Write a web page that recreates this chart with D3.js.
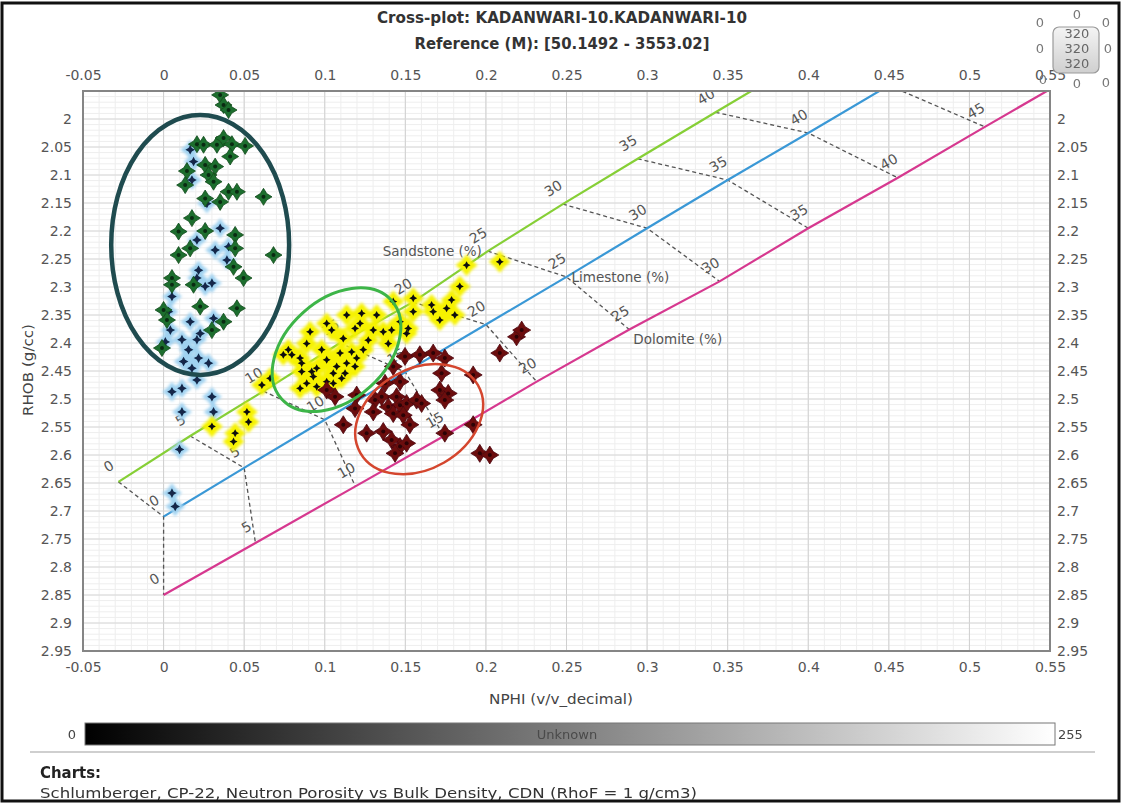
<!DOCTYPE html>
<html><head><meta charset="utf-8">
<script src="https://cdn.jsdelivr.net/npm/d3@7"></script>
<style>body{margin:0;background:#fff}svg{display:block}</style>
</head><body>
<svg id="chart" width="1123" height="805"></svg>
<script>
// ---- Chart data ----
const xTicks = [-0.05, 0, 0.05, 0.1, 0.15, 0.2, 0.25, 0.3, 0.35, 0.4, 0.45, 0.5, 0.55];
const yTicks = [2, 2.05, 2.1, 2.15, 2.2, 2.25, 2.3, 2.35, 2.4, 2.45, 2.5, 2.55, 2.6, 2.65, 2.7, 2.75, 2.8, 2.85, 2.9, 2.95];

// porosity (%) along each lithology line of the CP-22 chart
const porosity = [0, 5, 10, 15, 20, 25, 30, 35, 40, 45, 50];
const sandstoneNphi = [-0.028, 0.0165, 0.062, 0.1095, 0.1547, 0.2012, 0.2477, 0.2942, 0.3425, 0.391, 0.44];
const sandstoneRhob = [2.648, 2.566, 2.486, 2.400, 2.327, 2.236, 2.152, 2.071, 1.988, 1.905, 1.82];
const limestoneNphi = [0, 0.05, 0.1, 0.15, 0.2, 0.25, 0.3, 0.35, 0.4, 0.45, 0.5];
const limestoneRhob = [2.710, 2.623, 2.537, 2.452, 2.367, 2.282, 2.195, 2.109, 2.025, 1.940, 1.855];
const dolomiteNphi = [0, 0.057, 0.119, 0.174, 0.2315, 0.289, 0.345, 0.400, 0.4556, 0.5096, 0.565];
const dolomiteRhob = [2.850, 2.757, 2.656, 2.566, 2.469, 2.376, 2.290, 2.195, 2.105, 2.014, 1.922];

// samples, grouped by symbol colour
const greenNphi = [0.0351,0.0372,0.0403,0.0207,0.0248,0.0331,0.0372,0.0424,0.0506,0.0413,0.0258,0.0320,0.0145,0.0279,0.0310,0.0134,0.0403,0.0455,0.0620,0.0258,0.0351,0.0176,0.0093,0.0258,0.0444,0.0165,0.0093,0.0444,0.0682,0.0434,0.0496,0.0052,0.0052,0.0186,0.0227,0.0455,0.0000,0.0021,0.0300,0.0372,-0.001];
const greenRhob = [1.957,1.975,1.984,2.045,2.046,2.046,2.034,2.045,2.048,2.067,2.082,2.085,2.093,2.100,2.112,2.118,2.130,2.130,2.139,2.142,2.148,2.177,2.201,2.200,2.207,2.231,2.243,2.231,2.243,2.264,2.284,2.284,2.296,2.296,2.335,2.338,2.341,2.359,2.377,2.362,2.409];

const blueNphi = [0.0165,0.0186,0.0176,0.0269,0.0351,0.0207,0.0403,0.0320,0.0393,0.0217,0.0207,0.0300,0.0258,0.0052,0.0031,0.0042,0.0011,0.0165,0.0114,0.0207,0.0227,0.0155,0.0217,0.0124,0.0279,0.0176,0.0310,0.0207,0.0052,0.0114,0.0300,0.0114,0.0310,0.0099,0.0052,0.0072];
const blueRhob = [2.055,2.076,2.109,2.151,2.195,2.216,2.228,2.234,2.252,2.270,2.284,2.293,2.299,2.317,2.344,2.377,2.398,2.362,2.394,2.394,2.383,2.412,2.427,2.433,2.436,2.445,2.356,2.466,2.487,2.481,2.496,2.523,2.523,2.590,2.668,2.692];

const yellowNphi = [0.0661,0.0610,0.0517,0.0527,0.0300,0.0444,0.0434,0.0743,0.2086,0.1880,0.1838,0.1787,0.1756,0.1807,0.1714,0.1663,0.1673,0.1549,0.1549,0.1425,0.1467,0.1518,0.1508,0.1415,0.1394,0.1363,0.1301,0.1229,0.1136,0.1219,0.1188,0.1115,0.1270,0.1239,0.1167,0.1095,0.1043,0.1012,0.0909,0.0888,0.0981,0.1012,0.1074,0.1136,0.1188,0.1198,0.1053,0.1126,0.0950,0.0929,0.0857,0.0847,0.0796,0.0774,0.0857,0.0888,0.0950,0.1012,0.1053,0.1105,0.0847,0.0919,0.1322];
const yellowRhob = [2.463,2.475,2.523,2.541,2.549,2.561,2.576,2.421,2.255,2.261,2.299,2.323,2.338,2.350,2.359,2.332,2.344,2.320,2.344,2.326,2.362,2.374,2.383,2.377,2.401,2.380,2.377,2.347,2.350,2.365,2.374,2.392,2.395,2.412,2.416,2.418,2.377,2.365,2.380,2.401,2.412,2.430,2.442,2.436,2.442,2.427,2.454,2.454,2.445,2.460,2.436,2.427,2.421,2.412,2.451,2.472,2.478,2.469,2.472,2.463,2.481,2.451,2.350];

const redNphi = [0.2086,0.2190,0.2222,0.1498,0.1590,0.1673,0.1745,0.1725,0.1921,0.1425,0.1374,0.1467,0.1714,0.1766,0.1745,0.1012,0.1064,0.1198,0.1188,0.1312,0.1353,0.1301,0.1394,0.1446,0.1467,0.1508,0.1570,0.1601,0.1425,0.1487,0.1115,0.1260,0.1363,0.1415,0.1528,0.1467,0.1436,0.1508,0.1745,0.1921,0.1962,0.2024];
const redRhob = [2.418,2.389,2.377,2.424,2.421,2.418,2.427,2.454,2.457,2.442,2.472,2.469,2.484,2.490,2.502,2.484,2.496,2.493,2.517,2.502,2.496,2.523,2.514,2.496,2.511,2.508,2.502,2.508,2.526,2.529,2.546,2.561,2.558,2.573,2.546,2.585,2.597,2.579,2.561,2.546,2.597,2.600];

// highlighted clusters: centre (nphi, rhob), half-axes in data units, tilt in degrees
const clusterNames = ["gas", "sand", "dolo"];
const clusterNphi = [0.0227, 0.1073, 0.1586];
const clusterRhob = [2.225, 2.412, 2.536];
const clusterRx = [0.0552, 0.0458, 0.0421];
const clusterRy = [0.232, 0.0893, 0.0893];
const clusterTilt = [0, -42, -30];

// ---- Layout ----
const svg = d3.select("#chart");
const L = 83, R = 1050, T = 91, B = 651;
const x = d3.scaleLinear().domain([-0.05, 0.55]).range([L, R]);
const y = d3.scaleLinear().domain([1.95, 2.95]).range([T, B]);
const fmt = d => String(+d.toFixed(2));
const FONT = "'DejaVu Sans', Verdana, sans-serif";
const inPlot = (n, r) => x(n) >= L && x(n) <= R && y(r) >= T && y(r) <= B;

svg.append("rect").attr("width", 1123).attr("height", 805).attr("fill", "#fff");

const defs = svg.append("defs");
defs.append("clipPath").attr("id", "plotclip").append("rect")
  .attr("x", L).attr("y", T).attr("width", R - L).attr("height", B - T);
const glow = defs.append("filter").attr("id", "glow").attr("x", "-50%").attr("y", "-50%").attr("width", "200%").attr("height", "200%");
glow.append("feGaussianBlur").attr("stdDeviation", 1.4);
const soft = defs.append("filter").attr("id", "soft").attr("x", "-50%").attr("y", "-50%").attr("width", "200%").attr("height", "200%");
soft.append("feGaussianBlur").attr("stdDeviation", 0.6);
const grad = defs.append("linearGradient").attr("id", "bar");
grad.append("stop").attr("offset", "0%").attr("stop-color", "#000");
grad.append("stop").attr("offset", "100%").attr("stop-color", "#fff");
const knob = defs.append("linearGradient").attr("id", "knob").attr("x1", 0).attr("x2", 0).attr("y1", 0).attr("y2", 1);
knob.append("stop").attr("offset", "0%").attr("stop-color", "#f4f4f4");
knob.append("stop").attr("offset", "100%").attr("stop-color", "#cfcfcf");

// ---- Titles ----
svg.append("text").attr("x", 562).attr("y", 23).attr("text-anchor", "middle")
  .attr("font-family", FONT).attr("font-weight", "bold").attr("font-size", 15).attr("fill", "#333")
  .attr("textLength", 370).attr("lengthAdjust", "spacingAndGlyphs")
  .text("Cross-plot: KADANWARI-10.KADANWARI-10");
svg.append("text").attr("x", 562).attr("y", 49).attr("text-anchor", "middle")
  .attr("font-family", FONT).attr("font-weight", "bold").attr("font-size", 15).attr("fill", "#333")
  .attr("textLength", 295).attr("lengthAdjust", "spacingAndGlyphs")
  .text("Reference (M): [50.1492 - 3553.02]");

// ---- Grid ----
const grid = svg.append("g");
grid.selectAll(".mx").data(x.ticks(60)).join("line")
  .attr("x1", d => x(d)).attr("x2", d => x(d)).attr("y1", T).attr("y2", B)
  .attr("stroke", "#eeeeee").attr("stroke-width", 1);
grid.selectAll(".my").data(y.ticks(100)).join("line")
  .attr("y1", d => y(d)).attr("y2", d => y(d)).attr("x1", L).attr("x2", R)
  .attr("stroke", "#eeeeee").attr("stroke-width", 1);
grid.selectAll(".gx").data(xTicks).join("line")
  .attr("x1", d => x(d)).attr("x2", d => x(d)).attr("y1", T).attr("y2", B)
  .attr("stroke", "#cfcfcf").attr("stroke-width", 1);
grid.selectAll(".gy").data(yTicks).join("line")
  .attr("y1", d => y(d)).attr("y2", d => y(d)).attr("x1", L).attr("x2", R)
  .attr("stroke", "#d8d8d8").attr("stroke-width", 1);

// ---- Axes ----
function styleAxis(g) {
  g.select(".domain").remove();
  g.selectAll("text").attr("font-family", FONT).attr("font-size", 14).attr("fill", "#555");
}
svg.append("g").attr("transform", `translate(0,${B})`)
  .call(d3.axisBottom(x).tickValues(xTicks).tickSize(0).tickPadding(11).tickFormat(fmt)).call(styleAxis);
svg.append("g").attr("transform", `translate(0,${T})`)
  .call(d3.axisTop(x).tickValues(xTicks).tickSize(0).tickPadding(11).tickFormat(fmt)).call(styleAxis);
svg.append("g").attr("transform", `translate(${L},0)`)
  .call(d3.axisLeft(y).tickValues(yTicks).tickSize(0).tickPadding(11).tickFormat(fmt)).call(styleAxis);
svg.append("g").attr("transform", `translate(${R},0)`)
  .call(d3.axisRight(y).tickValues(yTicks).tickSize(0).tickPadding(7).tickFormat(fmt)).call(styleAxis);

svg.append("text").attr("transform", "translate(33,370) rotate(-90)").attr("text-anchor", "middle")
  .attr("font-family", FONT).attr("font-size", 14).attr("fill", "#444")
  .attr("textLength", 92).attr("lengthAdjust", "spacingAndGlyphs").text("RHOB (g/cc)");
svg.append("text").attr("x", 561).attr("y", 704).attr("text-anchor", "middle")
  .attr("font-family", FONT).attr("font-size", 14).attr("fill", "#444")
  .attr("textLength", 144).attr("lengthAdjust", "spacingAndGlyphs").text("NPHI (v/v_decimal)");

// ---- Lithology lines ----
const plot = svg.append("g").attr("clip-path", "url(#plotclip)");
const lith = [
  { name: "Sandstone (%)", n: sandstoneNphi, r: sandstoneRhob, color: "#86cf36" },
  { name: "Limestone (%)", n: limestoneNphi, r: limestoneRhob, color: "#3a98d6" },
  { name: "Dolomite (%)", n: dolomiteNphi, r: dolomiteRhob, color: "#d6388f" }
];
const line = d3.line().x(d => x(d[0])).y(d => y(d[1]));

// dashed iso-porosity connectors
const isoLayer = plot.append("g");
porosity.forEach((p, i) => {
  const pts = lith.map(l => [l.n[i], l.r[i]]);
  isoLayer.append("path").attr("d", line(pts)).attr("fill", "none")
    .attr("stroke", "#555").attr("stroke-width", 1.3).attr("stroke-dasharray", "4 3");
});

lith.forEach(l => {
  const pts = l.n.map((v, i) => [v, l.r[i]]);
  plot.append("path").attr("d", line(pts)).attr("fill", "none")
    .attr("stroke", l.color).attr("stroke-width", 2.2);
  const a = [x(pts[0][0]), y(pts[0][1])], b = [x(pts[pts.length - 1][0]), y(pts[pts.length - 1][1])];
  const len = Math.hypot(b[0] - a[0], b[1] - a[1]);
  const ux = (b[0] - a[0]) / len, uy = (b[1] - a[1]) / len;
  const ang = Math.atan2(uy, ux) * 180 / Math.PI;
  const marks = pts.map((d, i) => ({ d, p: porosity[i] })).filter(o => inPlot(o.d[0], o.d[1]));
  plot.selectAll(null).data(marks).join("text")
    .attr("transform", o => `translate(${x(o.d[0]) + uy * 18.5},${y(o.d[1]) - ux * 18.5}) rotate(${ang})`)
    .attr("text-anchor", "middle").attr("dominant-baseline", "central")
    .attr("font-family", FONT).attr("font-size", 14).attr("fill", "#555")
    .text(o => o.p);
});

// lithology names at the 25 % marks
const i25 = porosity.indexOf(25);
plot.append("text").attr("x", x(sandstoneNphi[i25]) - 6).attr("y", y(sandstoneRhob[i25]))
  .attr("text-anchor", "end").attr("dominant-baseline", "central")
  .attr("font-family", FONT).attr("font-size", 13.5).attr("fill", "#555").text(lith[0].name);
plot.append("text").attr("x", x(limestoneNphi[i25]) + 5).attr("y", y(limestoneRhob[i25]))
  .attr("dominant-baseline", "central")
  .attr("font-family", FONT).attr("font-size", 13.5).attr("fill", "#555").text(lith[1].name);
plot.append("text").attr("x", x(dolomiteNphi[i25]) + 4).attr("y", y(dolomiteRhob[i25]) + 9)
  .attr("dominant-baseline", "central")
  .attr("font-family", FONT).attr("font-size", 13.5).attr("fill", "#555").text(lith[2].name);

// ---- Samples ----
const star = (r, k) => { const w = r * k; return `M0,${-r}L${w},${-w}L${r},0L${w},${w}L0,${r}L${-w},${w}L${-r},0L${-w},${-w}Z`; };
const pairs = (n, r) => n.map((v, i) => [v, r[i]]);
function drawSet(data, halo, core, dot) {
  const g = plot.append("g");
  const at = d => `translate(${x(d[0])},${y(d[1])})`;
  if (halo) {
    g.append("g").attr("filter", "url(#glow)").selectAll("path").data(data).join("path")
      .attr("d", star(halo.r, halo.k)).attr("fill", halo.color).attr("transform", at);
  }
  g.append("g").attr("filter", "url(#soft)").selectAll("path").data(data).join("path")
    .attr("d", star(core.r, core.k)).attr("fill", core.color)
    .attr("stroke", core.edge || "none").attr("stroke-width", 0.8).attr("transform", at);
  if (dot) {
    g.append("g").selectAll("circle").data(data).join("circle")
      .attr("cx", d => x(d[0])).attr("cy", d => y(d[1])).attr("r", dot.r).attr("fill", dot.color);
  }
}
drawSet(pairs(blueNphi, blueRhob), { color: "#9fd1f0", r: 10, k: 0.42 }, { color: "#12284a", r: 4.8, k: 0.35 }, null);
drawSet(pairs(greenNphi, greenRhob), null, { color: "#1e6e2d", r: 8.5, k: 0.38, edge: "#124a1c" }, { color: "#0a2a12", r: 2 });
drawSet(pairs(yellowNphi, yellowRhob), { color: "#f6f200", r: 11, k: 0.45 }, { color: "#111", r: 4, k: 0.35 }, null);
drawSet(pairs(redNphi, redRhob), null, { color: "#6c0b10", r: 9, k: 0.38, edge: "#4a060a" }, { color: "#2c0306", r: 2 });

// ---- Cluster outlines ----
const clusterStyle = { gas: ["#1f4b4f", 4.5], sand: ["#3db548", 3], dolo: ["#d4462e", 2.5] };
clusterNames.forEach((k, i) => {
  const cx = x(clusterNphi[i]), cy = y(clusterRhob[i]);
  const rx = x(clusterNphi[i] + clusterRx[i]) - cx, ry = y(clusterRhob[i] + clusterRy[i]) - cy;
  plot.append("ellipse").attr("cx", 0).attr("cy", 0).attr("rx", rx).attr("ry", ry)
    .attr("transform", `translate(${cx},${cy}) rotate(${clusterTilt[i]})`)
    .attr("fill", "none").attr("stroke", clusterStyle[k][0]).attr("stroke-width", clusterStyle[k][1]);
});

// plot frame
svg.append("rect").attr("x", L).attr("y", T).attr("width", R - L).attr("height", B - T)
  .attr("fill", "none").attr("stroke", "#858585").attr("stroke-width", 2);

// ---- Colour scale bar ----
svg.append("rect").attr("x", 85).attr("y", 723).attr("width", 970).attr("height", 22)
  .attr("fill", "url(#bar)").attr("stroke", "#777").attr("stroke-width", 1);
svg.append("text").attr("x", 72).attr("y", 734).attr("text-anchor", "middle").attr("dominant-baseline", "central")
  .attr("font-family", FONT).attr("font-size", 13).attr("fill", "#444").text("0");
svg.append("text").attr("x", 1058).attr("y", 734).attr("dominant-baseline", "central")
  .attr("font-family", FONT).attr("font-size", 13).attr("fill", "#444").text("255");
svg.append("text").attr("x", 567).attr("y", 734).attr("text-anchor", "middle").attr("dominant-baseline", "central")
  .attr("font-family", FONT).attr("font-size", 13).attr("fill", "#4a4a4a").text("Unknown");

svg.append("line").attr("x1", 30).attr("x2", 1095).attr("y1", 752).attr("y2", 752)
  .attr("stroke", "#cfcfcf").attr("stroke-width", 2);
svg.append("text").attr("x", 40).attr("y", 778)
  .attr("font-family", FONT).attr("font-weight", "bold").attr("font-size", 15).attr("fill", "#222")
  .attr("textLength", 61).attr("lengthAdjust", "spacingAndGlyphs").text("Charts:");
svg.append("text").attr("x", 40).attr("y", 798)
  .attr("font-family", FONT).attr("font-size", 13.5).attr("fill", "#333")
  .attr("textLength", 657).attr("lengthAdjust", "spacingAndGlyphs")
  .text("Schlumberger, CP-22, Neutron Porosity vs Bulk Density, CDN (RhoF = 1 g/cm3)");

// ---- Rotation widget (top right) ----
const wg = svg.append("g").attr("font-family", FONT).attr("font-size", 13).attr("fill", "#777")
  .attr("text-anchor", "middle").attr("dominant-baseline", "central");
wg.append("rect").attr("x", 1053).attr("y", 27).attr("width", 46).attr("height", 46).attr("rx", 6)
  .attr("fill", "url(#knob)").attr("stroke", "#9a9a9a").attr("stroke-width", 1.2);
[[1040, 22], [1077, 14], [1106, 22], [1040, 48], [1108, 48], [1043, 79], [1077, 83], [1106, 82]]
  .forEach(([px, py]) => wg.append("text").attr("x", px).attr("y", py).text("0"));
[33, 48, 63].forEach(py => wg.append("text").attr("x", 1077).attr("y", py).attr("fill", "#666").text("320"));

// outer frame
svg.append("rect").attr("x", 2).attr("y", 3).attr("width", 1117).attr("height", 798)
  .attr("fill", "none").attr("stroke", "#111").attr("stroke-width", 3);
</script>
</body></html>
